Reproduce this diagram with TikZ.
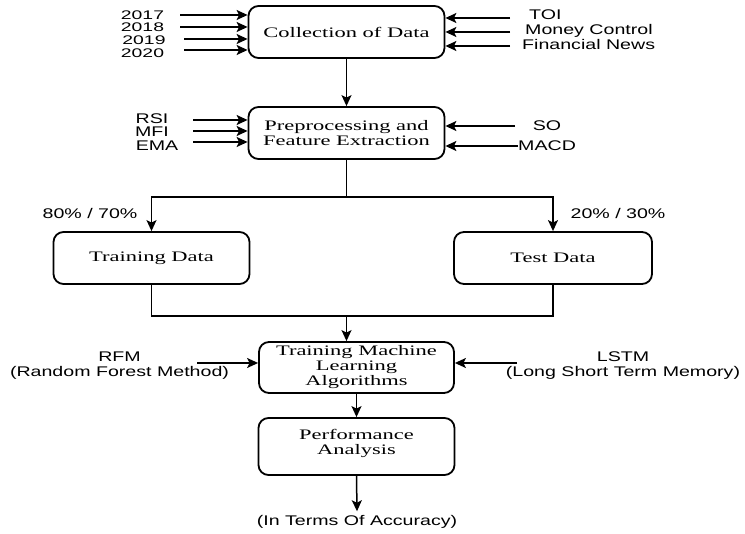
\documentclass[tikz,border=0pt]{standalone}
\usepackage{fontspec}
\usetikzlibrary{arrows.meta}
\newfontfamily\blkfont[FakeStretch=1.55]{Liberation Serif}
\newfontfamily\lblfont[FakeStretch=1.4]{Liberation Sans}
\newfontfamily\yrfont[FakeStretch=1.55]{Liberation Sans}

\tikzset{
	blk/.style={draw, line width=1.8pt, rounded corners=10pt, minimum width=196pt, minimum height=52pt, inner sep=0pt, align=center, font=\blkfont\fontsize{14.5}{15}\selectfont},
	lbl/.style={inner sep=0pt, align=center, font=\lblfont\fontsize{14}{15}\selectfont},
	yr/.style={inner sep=0pt, font=\yrfont\fontsize{12.5}{13}\selectfont},
	arr/.style={-{Stealth[length=11pt,width=10pt,inset=2.5pt]}, line width=1.5pt},
	ln/.style={line width=1.5pt}
}

\begin{document}
\begin{tikzpicture}[x=1pt,y=-1pt]
			\useasboundingbox (0,0) rectangle (745,534);

			% blocks
			\node [blk] (coll) at (346.5,32) {Collection of Data};
			\node [blk] (prep) at (346.5,133) {Preprocessing and\\Feature Extraction};
			\node [blk] (train) at (151.5,258) {Training Data};
			\node [blk, minimum width=198pt] (test) at (553,258) {Test Data};
			\node [blk, minimum width=195pt, minimum height=51pt] (tml) at (356.5,367.5) {Training Machine\\Learning\\Algorithms};
			\node [blk, minimum height=57pt] (perf) at (356.5,446.5) {Performance\\Analysis\\[-5pt]};

			% years into collection
			\node [yr] (y17) at (142.5,15) {2017};
			\node [yr] (y18) at (142.5,27.5) {2018};
			\node [yr] (y19) at (144,40) {2019};
			\node [yr] (y20) at (142.5,53) {2020};
			\coordinate (t17) at (180,15);
			\coordinate (t18) at (180,27);
			\coordinate (t19) at (184,39);
			\coordinate (t20) at (184,50);
			\draw [arr] (t17) -- (t17 -| coll.west);
			\draw [arr] (t18) -- (t18 -| coll.west);
			\draw [arr] (t19) -- (t19 -| coll.west);
			\draw [arr] (t20) -- (t20 -| coll.west);

			% sources into collection
			\node [lbl, anchor=west] (toi) at (529,15) {TOI};
			\node [lbl, anchor=west] (mc) at (525,31) {Money Control};
			\node [lbl, anchor=west] (fn) at (522,45) {Financial News};
			\coordinate (ttoi) at (510,18);
			\coordinate (tmc) at (510,32);
			\coordinate (tfn) at (510,46);
			\draw [arr] (ttoi) -- (ttoi -| coll.east);
			\draw [arr] (tmc) -- (tmc -| coll.east);
			\draw [arr] (tfn) -- (tfn -| coll.east);

			\draw [arr] (coll.south) -- (prep.north);

			% indicators into preprocessing
			\node [lbl] (rsi) at (152,119) {RSI};
			\node [lbl] (mfi) at (152,131.5) {MFI};
			\node [lbl] (ema) at (157,146) {EMA};
			\coordinate (trsi) at (193,120);
			\coordinate (tmfi) at (193,131);
			\coordinate (tema) at (193,142);
			\draw [arr] (trsi) -- (trsi -| prep.west);
			\draw [arr] (tmfi) -- (tmfi -| prep.west);
			\draw [arr] (tema) -- (tema -| prep.west);

			\node [lbl] (so) at (547,126) {SO};
			\node [lbl, anchor=west] (macd) at (518,146) {MACD};
			\coordinate (tso) at (515,126);
			\draw [arr] (tso) -- (tso -| prep.east);
			\draw [arr] (macd.west) -- (macd.west -| prep.east);

			% split
			\coordinate (split) at (346.5,197);
			\draw [ln] (prep.south) -- (split);
			\draw [arr] (split) -| (train.north);
			\draw [arr] (split) -| (test.north);
			\node [lbl] (p80) at (90,213) {80\% / 70\%};
			\node [lbl] (p20) at (618,213) {20\% / 30\%};

			% merge
			\coordinate (merge) at (346.5,316);
			\draw [ln] (train.south) |- (merge);
			\draw [ln] (test.south) |- (merge);
			\draw [arr] (merge) -- (merge |- tml.north);

			% methods
			\node [lbl] (rfm) at (119.5,365.5) {RFM\\(Random Forest Method)};
			\node [lbl] (lstm) at (623,365.5) {LSTM\\(Long Short Term Memory)};
			\coordinate (trfm) at (197,363);
			\coordinate (tlstm) at (517,363);
			\draw [arr] (trfm) -- (trfm -| tml.west);
			\draw [arr] (tlstm) -- (tlstm -| tml.east);

			\draw [arr] (tml.south) -- (perf.north);
			\node [lbl] (acc) at (357,522) {(In Terms Of Accuracy)};
			\draw [arr] (perf.south) -- ([yshift=4pt]acc.north);
		\end{tikzpicture}
\end{document}
